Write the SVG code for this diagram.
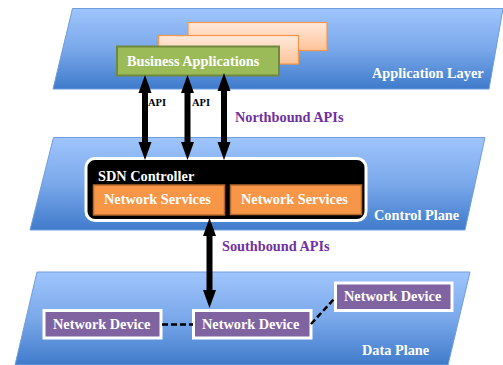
<svg xmlns="http://www.w3.org/2000/svg" width="503" height="365" viewBox="0 0 503 365">
  <defs>
    <linearGradient id="planeFill" x1="0" y1="0" x2="0" y2="1">
      <stop offset="0" stop-color="#9fc5fc"/>
      <stop offset="0.5" stop-color="#7aa8ea"/>
      <stop offset="1" stop-color="#3f7bcb"/>
    </linearGradient>
    <linearGradient id="appBack" x1="0" y1="0" x2="0" y2="1">
      <stop offset="0" stop-color="#ffe9dc"/>
      <stop offset="1" stop-color="#ffc39a"/>
    </linearGradient>
    <marker id="head" viewBox="0 -7 18 14" refX="0" refY="0" markerWidth="18" markerHeight="14" markerUnits="userSpaceOnUse" orient="auto-start-reverse">
      <path d="M0,-6.5 L18,0 L0,6.5 z" fill="#000"/>
    </marker>
    <style>
      .plane { fill: url(#planeFill); stroke: #6e9edb; stroke-width: 1; }
      .t { font-family: "Liberation Serif", "Times New Roman", serif; font-weight: bold; }
      .white { fill: #ffffff; }
      .purple { fill: #7030a0; }
      .lbl { font-size: 14.3px; }
      .api { font-size: 10.5px; fill: #000; }
      .back { fill: url(#appBack); stroke: #f79646; stroke-width: 1.2; }
      .svc { fill: #f79646; stroke: #b5682e; stroke-width: 1.5; }
      .dev { fill: #8064a2; stroke: #ffffff; stroke-width: 3; }
      .link { stroke: #000; stroke-width: 2.5; stroke-dasharray: 6 3; fill: none; }
      .arrow { stroke: #000; stroke-width: 6; fill: none; marker-start: url(#head); marker-end: url(#head); }
    </style>
  </defs>

  <!-- Layer planes -->
  <g id="application-layer">
    <polygon class="plane" points="72.5,8.5 503,8.5 489,89 53,89"/>
    <text class="t white lbl" x="372" y="78">Application Layer</text>
  </g>
  <g id="control-plane">
    <polygon class="plane" points="53.5,137.5 485,137.5 465,230 30,230"/>
    <text class="t white lbl" x="374" y="220">Control Plane</text>
  </g>
  <g id="data-plane">
    <polygon class="plane" points="37,272 470,272 448,365 15,365"/>
    <text class="t white lbl" x="362" y="355">Data Plane</text>
  </g>

  <!-- Business applications stack -->
  <g id="business-applications">
    <rect class="back" x="188" y="22.5" width="139" height="28"/>
    <rect class="back" x="158.5" y="35.5" width="140" height="28.5"/>
    <rect x="117" y="46.5" width="162" height="29" fill="#9bbb59" stroke="#71893f" stroke-width="2"/>
    <text class="t white lbl" x="127" y="66">Business Applications</text>
  </g>

  <!-- SDN controller -->
  <g id="sdn-controller">
    <rect x="86" y="158.5" width="280" height="62" rx="9" ry="9" fill="#000" stroke="#fff" stroke-width="3"/>
    <text class="t white lbl" x="98" y="181">SDN Controller</text>
  </g>
  <g id="network-services-1">
    <rect class="svc" x="93.5" y="185" width="131" height="30"/>
    <text class="t white lbl" x="104" y="204">Network Services</text>
  </g>
  <g id="network-services-2">
    <rect class="svc" x="230.5" y="185" width="131" height="29.5"/>
    <text class="t white lbl" x="241" y="204">Network Services</text>
  </g>

  <!-- Network devices -->
  <g id="network-device-1">
    <rect class="dev" x="44" y="310.5" width="117" height="27.5"/>
    <text class="t white lbl" x="53" y="328.5">Network Device</text>
  </g>
  <g id="network-device-2">
    <rect class="dev" x="193.5" y="310.5" width="117.5" height="27.5"/>
    <text class="t white lbl" x="202" y="328.5">Network Device</text>
  </g>
  <g id="network-device-3">
    <rect class="dev" x="335.5" y="283" width="116.5" height="27.5"/>
    <text class="t white lbl" x="344" y="301">Network Device</text>
  </g>

  <!-- Connectors -->
  <g id="connectors">
    <line class="arrow" x1="145" y1="93" x2="145" y2="142"/>
    <line class="arrow" x1="187.5" y1="93" x2="187.5" y2="142"/>
    <line class="arrow" x1="224" y1="91" x2="224" y2="142"/>
    <line class="arrow" x1="209.5" y1="236" x2="209.5" y2="290"/>
    <line class="link" x1="162" y1="324.5" x2="193" y2="324.5"/>
    <line class="link" x1="311" y1="324" x2="335" y2="298"/>
    <text class="t api" x="148" y="106">API</text>
    <text class="t api" x="192" y="106">API</text>
    <text class="t purple lbl" x="235" y="122">Northbound APIs</text>
    <text class="t purple lbl" x="222" y="251">Southbound APIs</text>
  </g>
</svg>
